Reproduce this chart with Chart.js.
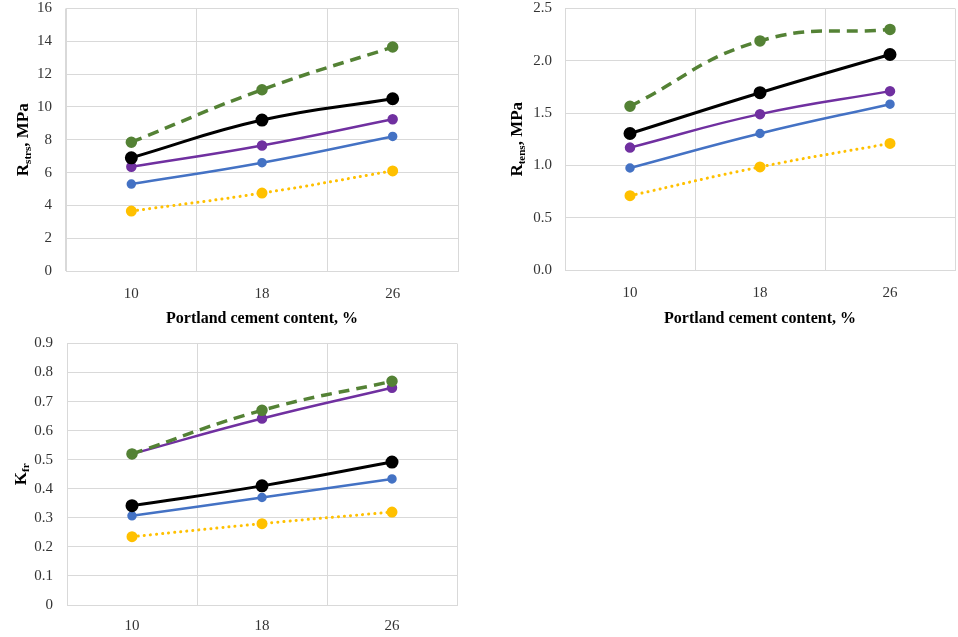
<!DOCTYPE html>
<html>
<head>
<meta charset="utf-8">
<script src="https://cdn.jsdelivr.net/npm/chart.js@4.4.1/dist/chart.umd.min.js"></script>
<style>
  body { margin: 0; background: #fff; width: 958px; height: 637px; position: relative; overflow: hidden; }
  .box { position: absolute; }
</style>
</head>
<body>
<div class="box" style="left:0;top:-13px;width:470px;height:343px"><canvas id="c1"></canvas></div>
<div class="box" style="left:490px;top:-12px;width:473px;height:342px"><canvas id="c2"></canvas></div>
<div class="box" style="left:0;top:322px;width:470px;height:315px"><canvas id="c3"></canvas></div>
<script>
const cementContent = ['10', '18', '26']

// strength, MPa
const rStrGreen = [7.85, 11.05, 13.65]
const rStrBlack = [6.9, 9.2, 10.5]
const rStrPurple = [6.35, 7.65, 9.25]
const rStrBlue = [5.3, 6.6, 8.2]
const rStrYellow = [3.65, 4.75, 6.1]

// tensile strength, MPa
const rTensGreen = [1.565, 2.19, 2.3]
const rTensBlack = [1.305, 1.695, 2.06]
const rTensPurple = [1.17, 1.49, 1.71]
const rTensBlue = [0.975, 1.305, 1.585]
const rTensYellow = [0.71, 0.985, 1.21]

// K_fr
const kFrGreen = [0.52, 0.67, 0.77]
const kFrBlack = [0.342, 0.41, 0.492]
const kFrPurple = [0.52, 0.642, 0.748]
const kFrBlue = [0.307, 0.37, 0.434]
const kFrYellow = [0.235, 0.28, 0.32]

const serif = '"Liberation Serif", "Times New Roman", serif'
const gridColor = '#d9d9d9'

// vertical axis title with a subscript part
const yTitle = {
  id: 'yTitle',
  afterDraw (chart, args, opts) {
    const ctx = chart.ctx
    const area = chart.chartArea
    const cy = (area.top + area.bottom) / 2
    const big = 'bold 17px ' + serif
    const small = 'bold 11px ' + serif
    ctx.save()
    ctx.fillStyle = '#000'
    ctx.textBaseline = 'alphabetic'
    ctx.font = big
    const w1 = ctx.measureText(opts.main).width
    const w3 = ctx.measureText(opts.rest).width
    ctx.font = small
    const w2 = ctx.measureText(opts.sub).width
    ctx.translate(opts.x, cy)
    ctx.rotate(-Math.PI / 2)
    let x = -(w1 + w2 + w3) / 2
    ctx.font = big
    ctx.fillText(opts.main, x, 6)
    x += w1
    ctx.font = small
    ctx.fillText(opts.sub, x, 9)
    x += w2
    ctx.font = big
    ctx.fillText(opts.rest, x, 6)
    ctx.restore()
  }
}

function lines (green, black, purple, blue, yellow) {
  return [
    { data: green, borderColor: '#548235', backgroundColor: '#548235', borderWidth: 3.5, borderDash: [11, 7], pointRadius: 4 },
    { data: black, borderColor: '#000000', backgroundColor: '#000000', borderWidth: 3, pointRadius: 5 },
    { data: purple, borderColor: '#7030A0', backgroundColor: '#7030A0', borderWidth: 2.5, pointRadius: 4 },
    { data: blue, borderColor: '#4472C4', backgroundColor: '#4472C4', borderWidth: 2.5, pointRadius: 3.5 },
    { data: yellow, borderColor: '#FFC000', backgroundColor: '#FFC000', borderWidth: 3, borderDash: [0.1, 6], borderCapStyle: 'round', pointRadius: 4 }
  ]
}

function makeChart (id, datasets, cfg) {
  return new Chart(document.getElementById(id), {
    type: 'line',
    data: { labels: cementContent, datasets: datasets },
    options: {
      responsive: true,
      maintainAspectRatio: false,
      animation: false,
      elements: { line: { tension: 0.45 }, point: { borderWidth: 1 } },
      layout: { padding: { top: 0, right: cfg.right, left: 0, bottom: 0 } },
      plugins: {
        legend: { display: false },
        tooltip: { enabled: false },
        yTitle: cfg.title
      },
      scales: {
        x: {
          type: 'category',
          offset: true,
          grid: { offset: true, color: gridColor, drawTicks: false },
          border: { color: gridColor },
          ticks: { font: { family: serif, size: 15 }, color: '#333333', padding: cfg.xPad },
          title: {
            display: !!cfg.xTitle,
            text: cfg.xTitle || '',
            font: { family: serif, size: 16, weight: 'bold' },
            color: '#000',
            padding: { top: 0, bottom: 2 }
          },
          afterFit (scale) { scale.height = cfg.xHeight }
        },
        y: {
          min: cfg.min,
          max: cfg.max,
          grid: { color: gridColor, drawTicks: false },
          border: { color: gridColor },
          ticks: {
            stepSize: cfg.step,
            font: { family: serif, size: 15, lineHeight: 1 },
            color: '#333333',
            padding: cfg.yPad,
            callback: cfg.fmt
          },
          afterFit (scale) { scale.width = cfg.yWidth }
        }
      }
    },
    plugins: [yTitle]
  })
}

makeChart('c1', lines(rStrGreen, rStrBlack, rStrPurple, rStrBlue, rStrYellow), {
  right: 12, min: 0, max: 16, step: 2, yWidth: 66, xHeight: 59, xPad: 14, yPad: 14,
  xTitle: 'Portland cement content, %',
  fmt: v => String(v),
  title: { main: 'R', sub: 'strs', rest: ', MPa', x: 22 }
})

makeChart('c2', lines(rTensGreen, rTensBlack, rTensPurple, rTensBlue, rTensYellow), {
  right: 3, min: 0, max: 2.5, step: 0.5, yWidth: 75, xHeight: 60, xPad: 14, yPad: 13,
  xTitle: 'Portland cement content, %',
  fmt: v => v.toFixed(1),
  title: { main: 'R', sub: 'tens', rest: ', MPa', x: 26 }
})

makeChart('c3', lines(kFrGreen, kFrBlack, kFrPurple, kFrBlue, kFrYellow), {
  right: 13, min: 0, max: 0.9, step: 0.1, yWidth: 67, xHeight: 32, xPad: 12, yPad: 14,
  xTitle: '',
  fmt: v => (v === 0 ? '0' : v.toFixed(1)),
  title: { main: 'K', sub: 'fr', rest: '', x: 20 }
})
</script>
</body>
</html>
